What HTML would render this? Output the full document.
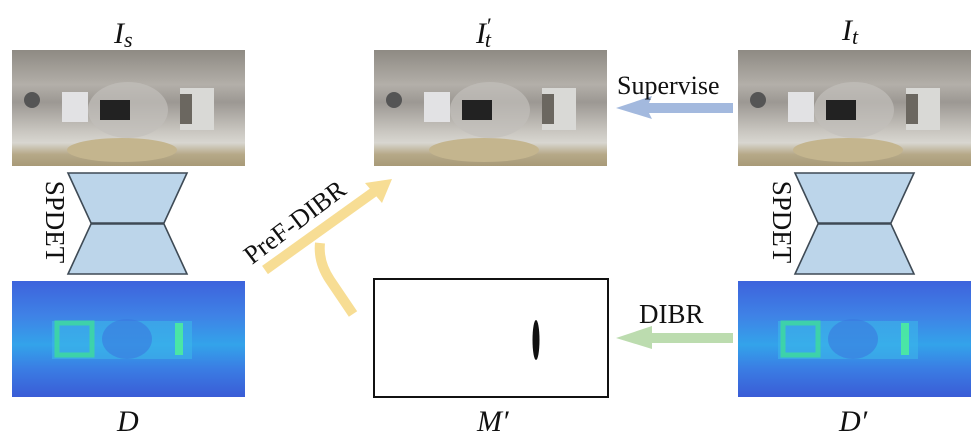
<!DOCTYPE html>
<html><head><meta charset="utf-8"><style>
html,body{margin:0;padding:0;background:#fff;width:980px;height:447px;overflow:hidden}
svg{display:block}
text{font-family:"Liberation Serif",serif;fill:#111}
</style></head><body>
<svg width="980" height="447" viewBox="0 0 980 447" xmlns="http://www.w3.org/2000/svg">
<defs>
<linearGradient id="room" x1="0" y1="0" x2="0" y2="1">
<stop offset="0" stop-color="#8e8a83"/><stop offset="0.3" stop-color="#b3afa9"/>
<stop offset="0.45" stop-color="#9c9893"/><stop offset="0.7" stop-color="#c9c6c0"/>
<stop offset="0.8" stop-color="#d8d6d0"/><stop offset="0.9" stop-color="#b6a988"/><stop offset="1" stop-color="#a89a78"/>
</linearGradient>
<linearGradient id="depth" x1="0" y1="0" x2="0" y2="1">
<stop offset="0" stop-color="#3d63dc"/><stop offset="0.3" stop-color="#3f82e6"/>
<stop offset="0.55" stop-color="#33a3ea"/><stop offset="0.75" stop-color="#3a7ee4"/><stop offset="1" stop-color="#3a5cd6"/>
</linearGradient>
<g id="photo">
<rect width="233" height="116" fill="url(#room)"/>
<ellipse cx="116" cy="60" rx="40" ry="28" fill="#c2bfba" opacity="0.7"/>
<rect x="88" y="50" width="30" height="20" fill="#222"/>
<rect x="50" y="42" width="26" height="30" fill="#e2e2e4"/>
<rect x="168" y="38" width="34" height="42" fill="#d9d9d6"/>
<rect x="168" y="44" width="12" height="30" fill="#6b6760"/>
<circle cx="20" cy="50" r="8" fill="#555"/>
<ellipse cx="110" cy="100" rx="55" ry="12" fill="#c4b58e"/>
</g>
<g id="dep">
<rect width="233" height="116" fill="url(#depth)"/>
<rect x="40" y="40" width="140" height="38" fill="#3cb5ea" opacity="0.6"/>
<rect x="45" y="42" width="35" height="32" fill="none" stroke="#3fdc9a" stroke-width="5" opacity="0.8"/>
<rect x="163" y="42" width="8" height="32" fill="#4ef09a" opacity="0.85"/>
<ellipse cx="115" cy="58" rx="25" ry="20" fill="#3a78e0" opacity="0.6"/>
</g>
<g id="enc">
<polygon points="0,0 119,0 96,50 23,50" fill="#bcd5ea" stroke="#3e4a55" stroke-width="1.6"/>
<polygon points="23,51 96,51 119,101 0,101" fill="#bcd5ea" stroke="#3e4a55" stroke-width="1.6"/>
</g>
</defs>

<use href="#photo" x="12" y="50"/>
<use href="#photo" x="374" y="50"/>
<use href="#photo" x="738" y="50"/>
<use href="#enc" x="68" y="173"/>
<use href="#enc" x="795" y="173"/>
<use href="#dep" x="12" y="281"/>
<use href="#dep" x="738" y="281"/>

<rect x="374" y="279" width="234" height="118" fill="#fff" stroke="#111" stroke-width="2"/>
<ellipse cx="536" cy="340" rx="3.5" ry="20" fill="#111"/>

<text x="52" y="222" font-size="27" transform="rotate(90 52 222)" text-anchor="middle" dominant-baseline="middle">SPDET</text>
<text x="779" y="222" font-size="27" transform="rotate(90 779 222)" text-anchor="middle" dominant-baseline="middle">SPDET</text>

<text x="114" y="43" font-size="30" font-style="italic">I<tspan font-size="22" dy="4">s</tspan></text>
<text x="476" y="43" font-size="30" font-style="italic">I<tspan font-size="22" dx="1" dy="-10" font-style="normal">′</tspan><tspan font-size="22" dy="14" dx="-7">t</tspan></text>
<text x="842" y="40" font-size="30" font-style="italic">I<tspan font-size="22" dy="4">t</tspan></text>
<text x="117" y="431" font-size="30" font-style="italic">D</text>
<text x="477" y="431" font-size="30" font-style="italic">M′</text>
<text x="839" y="431" font-size="30" font-style="italic">D′</text>

<polygon points="733,103 649,103 652,96 616,108 652,119 649,113 733,113" fill="#a3b9de"/>
<text x="617" y="94" font-size="26">Supervise</text>
<polygon points="733,333 652,333 652,326 616,338 652,349 652,343 733,343" fill="#bcdcaf"/>
<text x="639" y="323" font-size="27">DIBR</text>

<g fill="none" stroke="#f7dd94" stroke-width="10" stroke-linecap="butt">
<line x1="265" y1="270" x2="378" y2="189"/>
<path d="M353,314 L330,280 Q318,262 320,243"/>
</g>
<polygon points="392,179 365,183 382,203" fill="#f7dd94"/>
<text x="0" y="0" font-size="26" transform="translate(252,265) rotate(-37)">PreF-DIBR</text>
</svg>
</body></html>
